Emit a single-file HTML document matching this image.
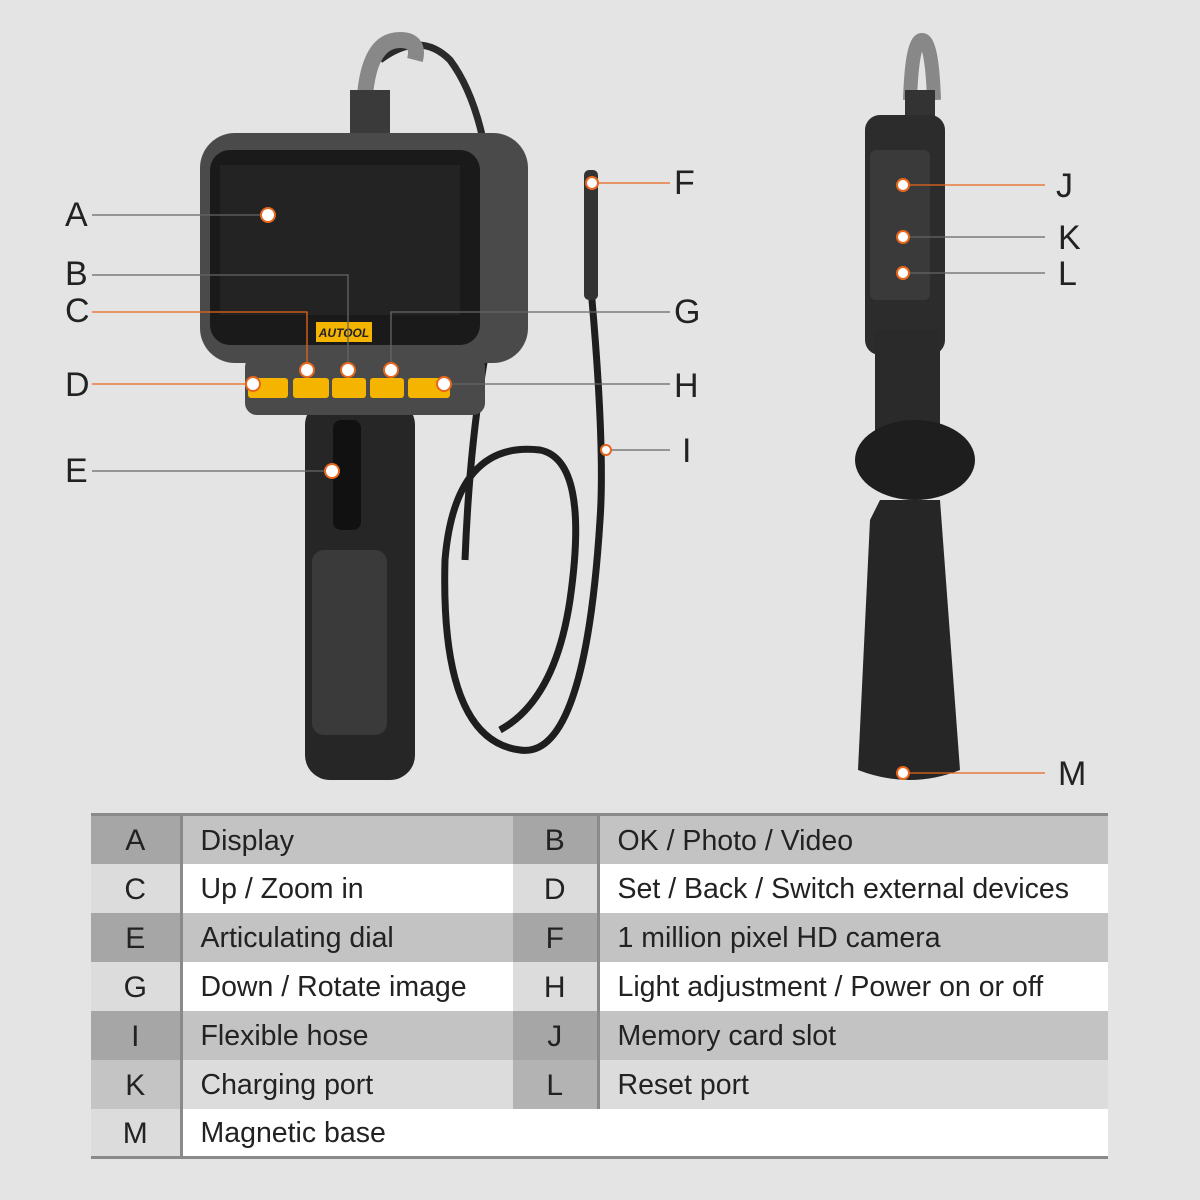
<!DOCTYPE html><html><head><style>
body{margin:0;width:1200px;height:1200px;background:#e4e4e4;font-family:"Liberation Sans",sans-serif;overflow:hidden;position:relative}
svg{position:absolute;left:0;top:0}
table{position:absolute;left:91px;top:813px;width:1017px;border-collapse:collapse;table-layout:fixed;border-top:3px solid #8a8a8a;border-bottom:3px solid #8a8a8a}
td{height:49px;padding:0;font-size:28.5px;color:#222;padding-top:3px;box-sizing:border-box;white-space:nowrap}
td.l{text-align:center;font-size:30px}
td.t{padding-left:18px}
td.s{border-left:3px solid #8a8a8a}
</style></head><body>
<svg width="1200" height="800" viewBox="0 0 1200 800">
<path d="M380 60 Q420 30 450 60 Q480 100 490 180" stroke="#2a2a2a" stroke-width="7" fill="none"/>
<path d="M365 95 Q370 40 400 40 Q420 40 415 60" stroke="#888" stroke-width="16" fill="none"/>
<rect x="350" y="90" width="40" height="45" fill="#3a3a3a"/>
<path d="M590 175 L592 300 Q605 450 600 520 Q585 760 520 750 Q440 740 445 560 Q455 440 540 450 Q590 460 570 600 Q555 700 500 730" stroke="#1e1e1e" stroke-width="7" fill="none"/>
<path d="M490 330 Q470 430 465 560" stroke="#1e1e1e" stroke-width="7" fill="none"/>
<rect x="584" y="170" width="14" height="130" rx="5" fill="#333"/>
<rect x="305" y="400" width="110" height="380" rx="25" fill="#262626"/>
<rect x="312" y="550" width="75" height="185" rx="12" fill="#3a3a3a"/>
<rect x="333" y="420" width="28" height="110" rx="8" fill="#111"/>
<rect x="200" y="133" width="328" height="230" rx="35" fill="#4a4a4a"/>
<rect x="210" y="150" width="270" height="195" rx="20" fill="#1a1a1a"/>
<rect x="220" y="165" width="240" height="150" fill="#232323"/>
<rect x="245" y="355" width="240" height="60" rx="12" fill="#4a4a4a"/>
<rect x="316" y="322" width="56" height="20" fill="#f5b400"/>
<text x="344" y="337" font-size="12" font-weight="bold" font-style="italic" text-anchor="middle" fill="#222">AUTOOL</text>
<g fill="#f5b400"><rect x="248" y="378" width="40" height="20" rx="3"/><rect x="293" y="378" width="36" height="20" rx="3"/><rect x="332" y="378" width="34" height="20" rx="3"/><rect x="370" y="378" width="34" height="20" rx="3"/><rect x="408" y="378" width="42" height="20" rx="3"/></g>
<path d="M910 100 Q912 40 922 40 Q932 40 934 100" stroke="#888" stroke-width="14" fill="none"/>
<rect x="905" y="90" width="30" height="30" fill="#333"/>
<rect x="865" y="115" width="80" height="240" rx="15" fill="#2c2c2c"/>
<rect x="870" y="150" width="60" height="150" rx="6" fill="#3a3a3a"/>
<rect x="875" y="330" width="65" height="120" fill="#2a2a2a"/>
<ellipse cx="915" cy="460" rx="60" ry="40" fill="#1e1e1e"/>
<path d="M880 500 L940 500 L960 770 Q910 790 858 770 L870 520 Z" fill="#262626"/>
<g stroke-width="1.3" fill="none">
<path d="M92 215 H268" stroke="#666"/>
<path d="M92 275 H348 V370" stroke="#666"/>
<path d="M92 312 H307 V370" stroke="#e8661a"/>
<path d="M92 384 H253" stroke="#e8661a"/>
<path d="M92 471 H332" stroke="#666"/>
<path d="M592 183 H670" stroke="#e8661a"/>
<path d="M391 370 V312 H670" stroke="#666"/>
<path d="M444 384 H670" stroke="#666"/>
<path d="M606 450 H670" stroke="#666"/>
<path d="M903 185 H1045" stroke="#e8661a"/>
<path d="M903 237 H1045" stroke="#666"/>
<path d="M903 273 H1045" stroke="#666"/>
<path d="M903 773 H1045" stroke="#e8661a"/>
</g>
<g fill="#fff" stroke="#e8661a" stroke-width="2">
<circle cx="268" cy="215" r="7"/><circle cx="348" cy="370" r="7"/><circle cx="307" cy="370" r="7"/><circle cx="253" cy="384" r="7"/><circle cx="332" cy="471" r="7"/><circle cx="592" cy="183" r="6"/><circle cx="391" cy="370" r="7"/><circle cx="444" cy="384" r="7"/><circle cx="606" cy="450" r="5"/><circle cx="903" cy="185" r="6"/><circle cx="903" cy="237" r="6"/><circle cx="903" cy="273" r="6"/><circle cx="903" cy="773" r="6"/>
</g>
<g font-size="34" fill="#222">
<text x="65" y="226">A</text><text x="65" y="285">B</text><text x="65" y="322">C</text><text x="65" y="396">D</text><text x="65" y="482">E</text>
<text x="674" y="194">F</text><text x="674" y="323">G</text><text x="674" y="397">H</text><text x="682" y="462">I</text>
<text x="1056" y="197">J</text><text x="1058" y="249">K</text><text x="1058" y="285">L</text><text x="1058" y="785">M</text>
</g>
</svg>
<table>
<colgroup><col style="width:90px"><col style="width:332px"><col style="width:85px"><col style="width:510px"></colgroup>
<tr style="background:#c3c3c3"><td class="l" style="background:#a6a6a6">A</td><td class="t s">Display</td><td class="l" style="background:#a6a6a6">B</td><td class="t s">OK / Photo / Video</td></tr>
<tr style="background:#fff"><td class="l" style="background:#dcdcdc">C</td><td class="t s">Up / Zoom in</td><td class="l" style="background:#dcdcdc">D</td><td class="t s">Set / Back / Switch external devices</td></tr>
<tr style="background:#c3c3c3"><td class="l" style="background:#a6a6a6">E</td><td class="t s">Articulating dial</td><td class="l" style="background:#a6a6a6">F</td><td class="t s">1 million pixel HD camera</td></tr>
<tr style="background:#fff"><td class="l" style="background:#dcdcdc">G</td><td class="t s">Down / Rotate image</td><td class="l" style="background:#dcdcdc">H</td><td class="t s">Light adjustment / Power on or off</td></tr>
<tr style="background:#c3c3c3"><td class="l" style="background:#a6a6a6">I</td><td class="t s">Flexible hose</td><td class="l" style="background:#a6a6a6">J</td><td class="t s">Memory card slot</td></tr>
<tr style="background:#dcdcdc"><td class="l" style="background:#c4c4c4">K</td><td class="t s">Charging port</td><td class="l" style="background:#b3b3b3">L</td><td class="t s">Reset port</td></tr>
<tr style="background:#fff"><td class="l" style="background:#dcdcdc">M</td><td class="t s" colspan="3">Magnetic base</td></tr>
</table>
</body></html>
